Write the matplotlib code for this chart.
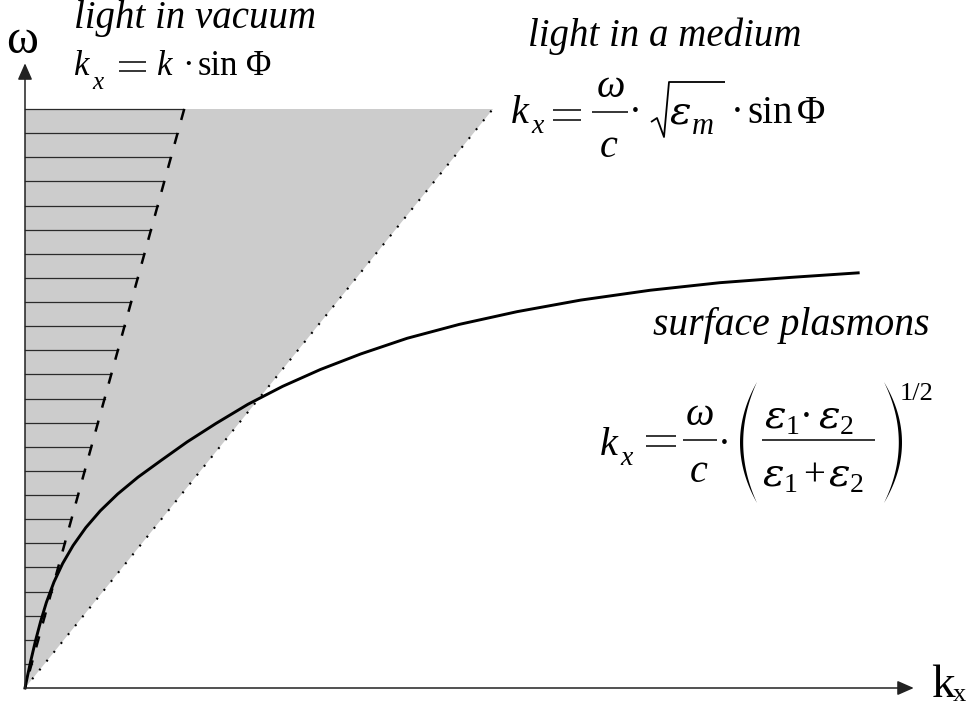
import numpy as np
import matplotlib
matplotlib.use('Agg')
import matplotlib.pyplot as plt
from matplotlib.lines import Line2D
from matplotlib.patches import Polygon

plt.rcParams['lines.scale_dashes'] = False

# light lines: k_x as a function of omega (normalised units)
omega_line = [0.0, 1.0]
k_vacuum = [0.0, 0.275]
k_medium = [0.0, 0.808]

# surface plasmon dispersion
sp_k = [0.000, 0.005, 0.010, 0.018, 0.027, 0.037, 0.050, 0.065, 0.083, 0.105,
        0.130, 0.160, 0.195, 0.235, 0.280, 0.330, 0.385, 0.445, 0.510, 0.580,
        0.660, 0.750, 0.850, 0.960, 1.080, 1.200, 1.320, 1.439]
sp_omega = [0.000, 0.024, 0.047, 0.081, 0.115, 0.148, 0.183, 0.215, 0.246, 0.277,
            0.306, 0.335, 0.364, 0.393, 0.425, 0.457, 0.490, 0.521, 0.550, 0.577,
            0.604, 0.628, 0.650, 0.670, 0.687, 0.700, 0.709, 0.717]

# hatch levels inside the vacuum light cone
hatch_omega = np.arange(1, 25) / 24.0

W, H = 970, 711
fig = plt.figure(figsize=(W / 100, H / 100), dpi=100)
ax = fig.add_axes([0, 0, 1, 1])
ax.set_xlim(-25 / 579, 945 / 579)
ax.set_ylim(-23 / 579, 688 / 579)
ax.axis('off')

# grey region between the axis and the light line in the medium
ax.fill([0, 0, k_medium[1]], [0, 1, 1], color='#cccccc', lw=0, zorder=1)

# horizontal hatching up to the vacuum light line
hatch_end = np.interp(hatch_omega, omega_line, k_vacuum)
for w, kend in zip(hatch_omega, hatch_end):
    ax.plot([0, kend], [w, w], color='#2a2a2a', lw=0.9, zorder=2)

ax.plot(k_vacuum[::-1], omega_line[::-1], color='black', lw=1.8,
        dashes=(8.2, 9.7), dash_capstyle='butt', zorder=3)
ax.plot(k_medium, omega_line, color='black', lw=1.5,
        dashes=(1.4, 6.8), dash_capstyle='butt', zorder=3)
ax.plot(sp_k, sp_omega, color='black', lw=2.1, solid_joinstyle='round', zorder=4)

# axes with arrow heads
arrow = dict(arrowstyle='-|>,head_length=0.5,head_width=0.22', color='#222222',
             lw=1.1, mutation_scale=20, shrinkA=0, shrinkB=0)
ax.annotate('', xy=(0, 1.079), xytext=(0, 0), arrowprops=arrow, zorder=5)
ax.annotate('', xy=(1.535, 0), xytext=(0, 0), arrowprops=arrow, zorder=5)

# ---- text, placed in pixel coordinates from the top-left corner ----
serif = 'Liberation Serif'
greek = 'DejaVu Serif'


def txt(x, y, s, size, italic=False, ha='left', family=serif):
    fig.text(x / W, 1 - y / H, s, family=family, fontsize=size, ha=ha,
             va='baseline', style='italic' if italic else 'normal')


def rule(xs, ys, lw=1.1):
    fig.add_artist(Line2D([x / W for x in xs], [1 - y / H for y in ys],
                          color='black', lw=lw, solid_capstyle='butt'))


def equals(x0, x1, yc, gap):
    rule([x0, x1], [yc - gap / 2, yc - gap / 2])
    rule([x0, x1], [yc + gap / 2, yc + gap / 2])


def paren(x_tip, x_mid, y0, y1, thick):
    # crescent shaped bracket, thin at the ends and thick in the middle
    t = np.linspace(-1, 1, 60)
    ym = (y0 + y1) / 2
    hh = (y1 - y0) / 2
    outer = x_tip + (x_mid - x_tip) * (1 - t ** 2)
    inner = x_tip + (x_mid + thick - x_tip) * (1 - t ** 2)
    xs = np.concatenate([outer, inner[::-1]])
    ys = np.concatenate([ym + t * hh, (ym + t * hh)[::-1]])
    fig.add_artist(Polygon(np.column_stack([xs / W, 1 - ys / H]),
                           closed=True, color='black', lw=0))


# axis labels
txt(6, 53, '\u03c9', 35)
txt(931, 697, 'k', 34)
txt(953, 701, 'x', 19)

# light in vacuum
txt(74, 28, 'light in vacuum', 28, italic=True)
txt(74, 75, 'k', 25, italic=True)
txt(92, 89, 'x', 18, italic=True)
equals(119, 146, 66, 9)
txt(157, 75, 'k', 25, italic=True)
txt(188, 75, '\u00b7', 25, ha='center')
txt(198, 75, 'sin', 25)
txt(246, 75, '\u03a6', 25)

# light in a medium
txt(528, 46, 'light in a medium', 28, italic=True)
txt(511, 123, 'k', 29, italic=True)
txt(531, 133, 'x', 20, italic=True)
equals(553, 581, 115, 10)
txt(611, 97, '\u03c9', 29, italic=True, ha='center')
rule([592, 628], [112, 112])
txt(609, 157, 'c', 29, italic=True, ha='center')
txt(635, 123, '\u00b7', 28, ha='center')
rule([651, 657, 664, 669, 725], [122, 118, 137, 82, 82], lw=1.3)
txt(670, 123, '\u03b5', 29, italic=True, family=greek)
txt(692, 134, 'm', 22, italic=True)
txt(737, 123, '\u00b7', 28, ha='center')
txt(747, 123, 'sin', 28)
txt(797, 123, '\u03a6', 28)

# surface plasmons
txt(653, 335, 'surface plasmons', 28.5, italic=True)
txt(600, 455, 'k', 29, italic=True)
txt(620, 465, 'x', 20, italic=True)
equals(646, 676, 441, 10)
txt(700, 425, '\u03c9', 29, italic=True, ha='center')
rule([683, 717], [440, 440])
txt(699, 482, 'c', 29, italic=True, ha='center')
txt(724, 455, '\u00b7', 28, ha='center')
paren(757, 740, 382, 503, 3.2)
txt(765, 428, '\u03b5', 29, italic=True, family=greek)
txt(786, 434, '1', 20)
txt(806, 428, '\u00b7', 28, ha='center')
txt(819, 428, '\u03b5', 29, italic=True, family=greek)
txt(840, 434, '2', 20)
rule([762, 875], [440, 440])
txt(763, 485, '\u03b5', 29, italic=True, family=greek)
txt(784, 492, '1', 20)
txt(814, 485, '+', 28, ha='center')
txt(829, 485, '\u03b5', 29, italic=True, family=greek)
txt(850, 492, '2', 20)
paren(884, 902, 382, 503, -3.2)
txt(900, 400, '1/2', 19)

fig.savefig('out.png', dpi=100)
